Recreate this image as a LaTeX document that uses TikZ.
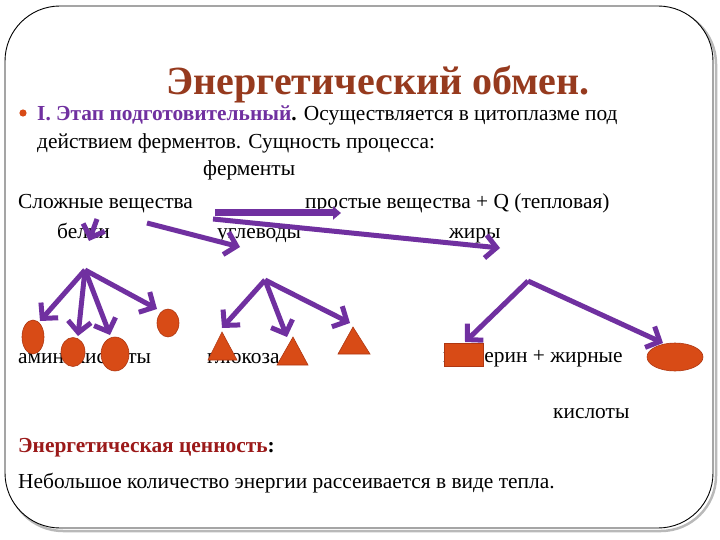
\documentclass[tikz,border=0pt]{standalone}
\usepackage{fontspec}
\setmainfont{Liberation Serif}
\usetikzlibrary{arrows.meta,shapes.geometric}
\definecolor{titlec}{RGB}{150,58,30}
\definecolor{purp}{RGB}{112,48,160}
\definecolor{dred}{RGB}{155,25,25}
\definecolor{orng}{RGB}{216,75,22}
\definecolor{orngd}{RGB}{175,55,18}
\tikzset{
  txt/.style={anchor=base west,inner sep=0pt,font=\fontsize{21.4}{25}\selectfont},
  parr/.style={draw=purp,line width=5pt,-{Straight Barb[length=11pt,width=23pt]}},
  bigarr/.style={draw=purp,line width=7pt,-{Triangle[length=8pt,width=13pt]}},
  blob/.style={ellipse,fill=orng,draw=orngd,line width=0.6pt,inner sep=0pt},
  tri/.style={fill=orng,draw=orngd,line width=0.6pt},
}
\begin{document}
\begin{tikzpicture}[x=1pt,y=-1pt]
\useasboundingbox (0,0) rectangle (720,540);
% slide frame with shadow
\draw[gray!55,line width=2.5pt,rounded corners=55pt] (8,9) rectangle (716,531);
\draw[fill=white,draw=black,line width=0.9pt,rounded corners=55pt] (5,6) rectangle (713,528);
% title
\node[anchor=base,inner sep=0pt,text=titlec,font=\bfseries\fontsize{40}{44}\selectfont] (title) at (378,95) {Энергетический обмен.};
% bullet line
\fill[orng] (23,113) circle (3.6pt);
\node[txt] (l1) at (37,121) {\textcolor{purp}{\bfseries I. Этап подготовительный}\textbf{.} Осуществляется в цитоплазме под};
\node[txt] (l2) at (37,149) {действием ферментов. Сущность процесса:};
\node[txt] (ferm) at (203,176) {ферменты};
\node[txt] (slozh) at (18,208) {Сложные вещества};
\node[txt] (prost) at (305,208) {простые вещества + Q (тепловая)};
\node[txt] (belki) at (57,239) {белки};
\node[txt] (uglev) at (217,239) {углеводы};
\node[txt] (zhiry) at (449,239) {жиры};
\node[txt] (amino) at (18,363) {аминокислоты};
\node[txt] (gluk) at (207,363) {глюкоза};
\node[txt] (glic) at (443,362) {глицерин + жирные};
\node[txt] (kisl) at (553,418) {кислоты};
\node[txt] (energ) at (18,452) {\textcolor{dred}{\bfseries Энергетическая ценность}\textbf{:}};
\node[txt] (neb) at (18,488) {Небольшое количество энергии рассеивается в виде тепла.};
% shapes
\node[blob,minimum width=22pt,minimum height=34pt] (o1) at (33,337) {};
\node[blob,minimum width=24pt,minimum height=29pt] (o2) at (73,352) {};
\node[blob,minimum width=28pt,minimum height=34pt] (o3) at (115,354) {};
\node[blob,minimum width=22pt,minimum height=28pt] (o4) at (168,323) {};
\draw[tri] (222,332) -- (237,360) -- (208,360) -- cycle;
\draw[tri] (293,337) -- (308,365) -- (277,365) -- cycle;
\draw[tri] (353,327) -- (370,354) -- (338,354) -- cycle;
\node[fill=orng,draw=orngd,line width=0.6pt,minimum width=39pt,minimum height=23pt,inner sep=0pt] (rect) at (463.5,354.5) {};
\node[blob,minimum width=56pt,minimum height=28pt] (oval) at (675,357) {};
% coordinates
\coordinate (h0) at (215,213); \coordinate (h1) at (341,213);
\coordinate (z0) at (213,219); \coordinate (z1) at (500,248);
\coordinate (u0) at (147,223); \coordinate (u1) at (240,247);
\coordinate (s0) at (97,219);  \coordinate (s1) at (89,241);
\coordinate (pa) at (85,270);
\coordinate (p1) at (40,321); \coordinate (p2) at (78,336);
\coordinate (p3) at (110,335); \coordinate (p4) at (157,309);
\coordinate (ca) at (265,280);
\coordinate (c1) at (222,328); \coordinate (c2) at (287,337); \coordinate (c3) at (350,323);
\coordinate (fa) at (528,281);
\coordinate (f1) at (465,342); \coordinate (f2) at (663,343);
% arrows
\draw[bigarr] (h0) -- (h1);
\draw[parr] (z0) -- (z1);
\draw[parr] (u0) -- (u1);
\draw[parr] (s0) -- (s1);
\foreach \t in {p1,p2,p3,p4} \draw[parr] (pa) -- (\t);
\foreach \t in {c1,c2,c3} \draw[parr] (ca) -- (\t);
\foreach \t in {f1,f2} \draw[parr] (fa) -- (\t);
\end{tikzpicture}
\end{document}
